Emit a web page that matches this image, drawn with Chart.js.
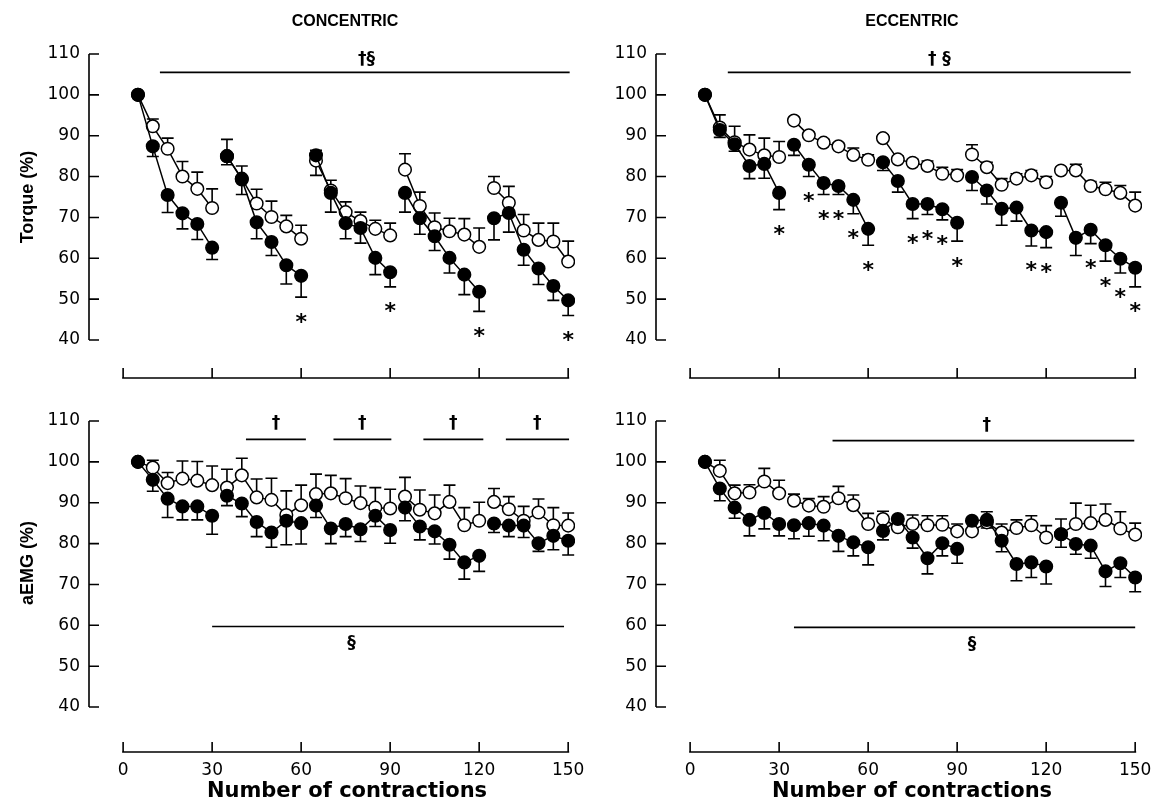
<!DOCTYPE html>
<html>
<head>
<meta charset="utf-8">
<title>Torque and aEMG during concentric and eccentric contractions</title>
<script src="https://cdn.jsdelivr.net/npm/chart.js@4.4.1/dist/chart.umd.min.js"></script>
<style>
  html, body { margin: 0; padding: 0; background: #fff; width: 1153px; height: 802px; overflow: hidden; position: relative; }
  canvas { position: absolute; }
  .lbl { position: absolute; font-family: "DejaVu Sans", sans-serif; font-weight: bold; color: #000;
         white-space: nowrap; transform: translate(-50%, -50%); }
  .arial { font-family: "Liberation Sans", Arial, sans-serif; }
  .rot { transform: translate(-50%, -50%) rotate(-90deg); }
</style>
</head>
<body>
<canvas id="torqueCon" width="600" height="400" style="left:0;top:0"></canvas>
<canvas id="torqueEcc" width="600" height="400" style="left:567px;top:0"></canvas>
<canvas id="emgCon" width="600" height="407" style="left:0;top:395px"></canvas>
<canvas id="emgEcc" width="600" height="407" style="left:567px;top:395px"></canvas>

<div class="lbl arial" style="left:345px;top:21px;font-size:16px">CONCENTRIC</div>
<div class="lbl arial" style="left:912px;top:21px;font-size:16px">ECCENTRIC</div>
<div class="lbl arial rot" style="left:27px;top:197px;font-size:18px">Torque (%)</div>
<div class="lbl arial rot" style="left:27px;top:563px;font-size:18px">aEMG (%)</div>
<div class="lbl" style="left:347px;top:790px;font-size:21px">Number of contractions</div>
<div class="lbl" style="left:912px;top:790px;font-size:21px">Number of contractions</div>

<script>
// Contraction number of every plotted mean (5 blocks of 6)
const contractions = [5, 10, 15, 20, 25, 30, 35, 40, 45, 50, 55, 60, 65, 70, 75, 80, 85, 90,
                      95, 100, 105, 110, 115, 120, 125, 130, 135, 140, 145, 150];
const xTicks = [0, 30, 60, 90, 120, 150];
const yTicks = [40, 50, 60, 70, 80, 90, 100, 110];

// Torque, concentric (filled = one group, open = other group), mean and SE
const concTorqueFilled = [100, 87.4, 75.5, 71.0, 68.4, 62.6, 85.0, 79.3, 68.8, 64.0, 58.3, 55.7, 85.2, 76.0, 68.6,
                          67.4, 60.1, 56.6, 76.0, 69.8, 65.4, 60.1, 56.0, 51.8, 69.8, 71.1, 62.1, 57.5, 53.2, 49.7];
const concTorqueFilledSE = [0, 2.5, 4.3, 3.8, 3.8, 2.9, 2.1, 3.7, 4.0, 3.3, 4.6, 5.2, 4.9, 4.7, 3.8,
                            3.7, 4.1, 3.6, 4.7, 3.9, 3.5, 3.7, 4.9, 4.8, 5.3, 4.7, 3.8, 3.9, 3.5, 3.7];
const concTorqueOpen = [100, 92.3, 86.8, 80.0, 77.0, 72.3, 85.0, 79.5, 73.4, 70.1, 67.8, 64.8, 83.9, 76.6, 71.3,
                        69.1, 67.2, 65.6, 81.7, 72.8, 67.6, 66.6, 65.8, 62.8, 77.2, 73.6, 66.8, 64.5, 64.1, 59.2];
const concTorqueOpenSE = [0, 1.8, 2.6, 3.7, 4.1, 4.7, 4.1, 3.1, 3.5, 3.9, 2.7, 3.3, 2.5, 2.5, 2.5,
                          2.2, 2.1, 3.0, 3.9, 3.4, 3.5, 3.2, 3.9, 4.6, 2.8, 4.0, 3.9, 4.1, 4.5, 5.0];
const concTorqueStars = [60, 90, 120, 150];
const concTorqueBars = [{ from: 12.4, to: 150.5, y: 105.5, text: '†§', textX: 82, textY: 108.6 }];

// Torque, eccentric
const eccTorqueFilled = [100, 91.4, 87.9, 82.6, 83.1, 76.0, 87.8, 82.9, 78.4, 77.7, 74.3, 67.2, 83.5, 78.9, 73.3,
                         73.3, 72.0, 68.7, 79.9, 76.6, 72.1, 72.4, 66.8, 66.4, 73.6, 65.0, 67.0, 63.2, 59.9, 57.7];
const eccTorqueFilledSE = [0, 1.8, 1.7, 3.1, 3.5, 4.1, 2.6, 2.9, 2.8, 2.1, 3.4, 4.0, 2.0, 2.7, 3.6,
                           2.6, 2.6, 4.5, 3.3, 3.3, 4.0, 3.3, 3.8, 3.8, 3.3, 4.3, 3.4, 3.9, 3.5, 4.7];
const eccTorqueOpen = [100, 92.0, 88.4, 86.6, 85.2, 84.8, 93.7, 90.1, 88.3, 87.4, 85.3, 84.1, 89.4, 84.2, 83.4,
                       82.6, 80.7, 80.3, 85.4, 82.3, 78.0, 79.5, 80.3, 78.6, 81.5, 81.5, 77.7, 76.9, 76.0, 72.9];
const eccTorqueOpenSE = [0, 3.1, 3.9, 3.6, 4.2, 3.8, 0.8, 0.8, 0.8, 0.8, 1.7, 1.2, 0.8, 0.8, 0.8,
                         1.2, 1.6, 1.4, 2.4, 1.2, 1.5, 1.2, 1.2, 1.4, 0.8, 1.5, 1.1, 1.7, 1.8, 3.3];
const eccTorqueStars = [30, 40, 45, 50, 55, 60, 75, 80, 85, 90, 115, 120, 135, 140, 145, 150];
const eccTorqueBars = [{ from: 12.7, to: 148.5, y: 105.5, text: '† §', textX: 84, textY: 108.6 }];

// aEMG, concentric
const concEmgFilled = [100, 95.6, 91.0, 89.1, 89.1, 86.8, 91.7, 89.8, 85.3, 82.7, 85.6, 85.0, 89.3, 83.7, 84.8,
                       83.5, 86.8, 83.3, 88.8, 84.2, 83.0, 79.7, 75.4, 77.0, 84.9, 84.4, 84.4, 80.1, 81.9, 80.7];
const concEmgFilledSE = [0, 2.8, 4.6, 3.3, 3.3, 4.5, 2.4, 3.2, 3.6, 3.6, 5.9, 5.1, 2.9, 3.7, 3.1,
                         3.0, 2.6, 3.2, 3.2, 3.3, 3.1, 3.5, 4.1, 3.8, 2.2, 2.7, 2.9, 2.0, 3.4, 3.5];
const concEmgOpen = [100, 98.6, 94.8, 95.9, 95.4, 94.3, 93.7, 96.7, 91.3, 90.7, 87.0, 89.4, 92.1, 92.3, 91.1,
                     89.9, 88.8, 88.6, 91.5, 88.3, 87.4, 90.2, 84.5, 85.6, 90.2, 88.4, 85.6, 87.6, 84.5, 84.4];
const concEmgOpenSE = [0, 1.8, 2.6, 4.3, 4.7, 4.7, 4.5, 4.2, 4.5, 5.3, 5.9, 4.9, 4.9, 4.4, 4.8,
                       4.2, 4.9, 4.7, 4.7, 4.8, 4.5, 4.1, 4.3, 4.5, 3.3, 3.1, 3.5, 3.3, 4.3, 3.1];
const concEmgStars = [];
const concEmgBars = [
  { from: 41.4, to: 61.6, y: 105.5, text: '†', textX: 51.5, textY: 109.4 },
  { from: 70.9, to: 90.4, y: 105.5, text: '†', textX: 80.6, textY: 109.4 },
  { from: 101.2, to: 121.4, y: 105.5, text: '†', textX: 111.3, textY: 109.4 },
  { from: 129.0, to: 150.3, y: 105.5, text: '†', textX: 139.6, textY: 109.4 },
  { from: 30.0, to: 148.6, y: 59.7, text: '§', textX: 77, textY: 55.6 }
];

// aEMG, eccentric
const eccEmgFilled = [100, 93.5, 88.8, 85.8, 87.5, 84.8, 84.5, 85.0, 84.4, 81.9, 80.3, 79.1, 83.1, 86.0, 81.5,
                      76.4, 80.1, 78.7, 85.6, 85.8, 80.7, 75.0, 75.4, 74.4, 82.3, 79.9, 79.5, 73.2, 75.2, 71.7];
const eccEmgFilledSE = [0, 3.0, 2.6, 3.9, 3.9, 2.9, 3.3, 3.2, 3.7, 3.8, 3.3, 4.3, 2.2, 2.0, 2.6,
                        3.8, 3.1, 3.5, 2.0, 2.0, 2.7, 4.1, 3.7, 4.3, 3.2, 2.5, 3.1, 3.7, 3.5, 3.5];
const eccEmgOpen = [100, 97.8, 92.3, 92.5, 95.2, 92.3, 90.5, 89.3, 89.0, 91.1, 89.4, 84.8, 86.0, 84.0, 84.8,
                    84.5, 84.6, 83.0, 83.0, 85.2, 82.7, 83.8, 84.5, 81.5, 82.3, 84.8, 85.0, 85.8, 83.7, 82.2];
const eccEmgOpenSE = [0, 2.6, 2.0, 1.9, 3.2, 3.2, 1.6, 1.7, 2.5, 2.9, 2.5, 2.6, 1.9, 2.0, 2.2,
                      2.3, 2.2, 1.8, 3.0, 2.6, 2.1, 2.0, 2.3, 2.9, 3.7, 5.1, 4.4, 3.9, 4.1, 2.8];
const eccEmgStars = [];
const eccEmgBars = [
  { from: 48.0, to: 149.7, y: 105.2, text: '†', textX: 100, textY: 108.9 },
  { from: 35.0, to: 150.0, y: 59.5, text: '§', textX: 95, textY: 55.4 }
];

const BLOCK = 6;        // points per block; lines break between blocks
const CAP = 6;          // half width of error bar caps, px
const TICK = 10;        // inward tick length, px
const STAR_GAP = 5;     // asterisk distance below the filled error bar, in %

Chart.defaults.font.family = '"DejaVu Sans", sans-serif';
Chart.defaults.font.size = 17;
Chart.defaults.color = '#000';

/**
 * Axis lines with inward ticks, error bars, significance bars and asterisks.
 */
const panelExtras = {
  id: 'panelExtras',
  beforeDatasetsDraw(chart) {
    const { ctx, chartArea, scales: { x, y } } = chart;
    ctx.save();
    ctx.strokeStyle = '#000';
    ctx.lineWidth = 1.6;
    ctx.beginPath();
    // y axis only spans the tick range, x axis only 0..150
    ctx.moveTo(chartArea.left, y.getPixelForValue(yTicks[0]));
    ctx.lineTo(chartArea.left, y.getPixelForValue(yTicks[yTicks.length - 1]));
    yTicks.forEach(v => {
      const py = y.getPixelForValue(v);
      ctx.moveTo(chartArea.left, py);
      ctx.lineTo(chartArea.left + TICK, py);
    });
    ctx.moveTo(x.getPixelForValue(xTicks[0]) - 1, chartArea.bottom);
    ctx.lineTo(x.getPixelForValue(xTicks[xTicks.length - 1]) + 1, chartArea.bottom);
    xTicks.forEach(v => {
      const px = x.getPixelForValue(v);
      ctx.moveTo(px, chartArea.bottom);
      ctx.lineTo(px, chartArea.bottom - TICK);
    });
    ctx.stroke();

    // error bars (filled go down, open go up), drawn under the markers
    chart.data.datasets.forEach((ds, i) => {
      const meta = chart.getDatasetMeta(i);
      ds.errors.forEach((se, j) => {
        if (!se) return;
        const pt = meta.data[j];
        const yEnd = y.getPixelForValue(ds.data[j].y + ds.errorSign * se);
        ctx.beginPath();
        ctx.moveTo(pt.x, pt.y);
        ctx.lineTo(pt.x, yEnd);
        ctx.moveTo(pt.x - CAP, yEnd);
        ctx.lineTo(pt.x + CAP, yEnd);
        ctx.stroke();
      });
    });
    ctx.restore();
  },
  afterDatasetsDraw(chart, args, opts) {
    const { ctx, scales: { x, y } } = chart;
    ctx.save();
    ctx.strokeStyle = '#000';
    ctx.fillStyle = '#000';
    ctx.lineWidth = 1.6;
    ctx.textAlign = 'center';
    ctx.textBaseline = 'middle';
    ctx.font = 'bold 17px "DejaVu Sans", sans-serif';
    opts.bars.forEach(b => {
      const py = y.getPixelForValue(b.y);
      ctx.beginPath();
      ctx.moveTo(x.getPixelForValue(b.from), py);
      ctx.lineTo(x.getPixelForValue(b.to), py);
      ctx.stroke();
      ctx.fillText(b.text, x.getPixelForValue(b.textX), y.getPixelForValue(b.textY));
    });

    const filled = chart.data.datasets[0];
    ctx.font = 'bold 22px "DejaVu Sans", sans-serif';
    ctx.textBaseline = 'alphabetic';
    opts.stars.forEach(c => {
      const j = contractions.indexOf(c);
      const v = filled.data[j].y - filled.errors[j] - STAR_GAP;
      ctx.fillText('*', x.getPixelForValue(c), y.getPixelForValue(v) + 11);
    });
    ctx.restore();
  }
};

/**
 * Build one panel: filled and open series, each a broken line of 5 blocks.
 */
function makePanel(canvasId, p) {
  const toPoints = vals => contractions.map((c, i) => ({ x: c, y: vals[i] }));
  const gapColor = ctx => (ctx.p0DataIndex % BLOCK === BLOCK - 1 ? 'rgba(0,0,0,0)' : '#000');
  const common = {
    borderColor: '#000',
    borderWidth: 1.5,
    pointRadius: 6.3,
    pointHoverRadius: 6.3,
    pointBorderColor: '#000',
    pointBorderWidth: 1.5,
    tension: 0,
    segment: { borderColor: gapColor }
  };
  return new Chart(document.getElementById(canvasId), {
    type: 'line',
    data: {
      datasets: [
        Object.assign({ label: 'filled', data: toPoints(p.filled), errors: p.filledSE, errorSign: -1,
                        pointBackgroundColor: '#000', order: 1 }, common),
        Object.assign({ label: 'open', data: toPoints(p.open), errors: p.openSE, errorSign: 1,
                        pointBackgroundColor: '#fff', order: 2 }, common)
      ]
    },
    options: {
      responsive: false,
      animation: false,
      devicePixelRatio: 1,
      layout: { padding: { top: p.top, right: 25, left: 0, bottom: 0 } },
      plugins: {
        legend: { display: false },
        tooltip: { enabled: false },
        panelExtras: { bars: p.bars, stars: p.stars }
      },
      scales: {
        x: {
          type: 'linear',
          min: -11.5,
          max: 152.3,
          grid: { display: false, drawTicks: false },
          border: { display: false },
          ticks: { display: p.showX, padding: 8, maxRotation: 0 },
          afterBuildTicks: s => { s.ticks = xTicks.map(v => ({ value: v })); },
          afterFit: s => { s.height = p.xHeight; }
        },
        y: {
          min: p.yMin,
          max: 110,
          grid: { display: false, drawTicks: false },
          border: { display: false },
          ticks: { padding: 9 },
          afterBuildTicks: s => { s.ticks = yTicks.map(v => ({ value: v })); },
          afterFit: s => { s.width = 89; }
        }
      }
    },
    plugins: [panelExtras]
  });
}

makePanel('torqueCon', { filled: concTorqueFilled, filledSE: concTorqueFilledSE, open: concTorqueOpen,
  openSE: concTorqueOpenSE, bars: concTorqueBars, stars: concTorqueStars,
  top: 54, yMin: 30.7, xHeight: 22, showX: false });
makePanel('torqueEcc', { filled: eccTorqueFilled, filledSE: eccTorqueFilledSE, open: eccTorqueOpen,
  openSE: eccTorqueOpenSE, bars: eccTorqueBars, stars: eccTorqueStars,
  top: 54, yMin: 30.7, xHeight: 22, showX: false });
makePanel('emgCon', { filled: concEmgFilled, filledSE: concEmgFilledSE, open: concEmgOpen,
  openSE: concEmgOpenSE, bars: concEmgBars, stars: concEmgStars,
  top: 26, yMin: 29.0, xHeight: 50, showX: true });
makePanel('emgEcc', { filled: eccEmgFilled, filledSE: eccEmgFilledSE, open: eccEmgOpen,
  openSE: eccEmgOpenSE, bars: eccEmgBars, stars: eccEmgStars,
  top: 26, yMin: 29.0, xHeight: 50, showX: true });
</script>
</body>
</html>
